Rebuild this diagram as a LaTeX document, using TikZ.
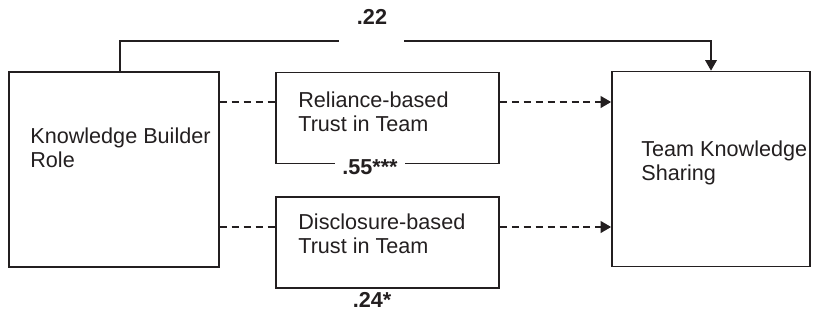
\documentclass[tikz,border=0pt]{standalone}
\usepackage{fontspec}
\setmainfont{Liberation Sans}
\usepackage{tikz}
\usetikzlibrary{arrows.meta, positioning, calc}
\definecolor{mydark}{RGB}{35,31,32}
\tikzset{
  bigbox/.style={rectangle, draw=mydark, line width=0.9pt,
    minimum width=4.2cm, minimum height=3.9cm, inner sep=0pt},
  midbox/.style={rectangle, draw=mydark, line width=0.9pt,
    minimum width=4.46cm, minimum height=1.82cm, inner sep=0pt},
  boxtext/.style={anchor=west, align=left, inner sep=0pt, text=mydark,
    font=\fontsize{12.3}{13.7}\selectfont},
  coef/.style={inner sep=0pt, text=mydark,
    font=\fontsize{12.3}{13.7}\selectfont\bfseries},
  arrow/.style={-{Triangle[length=6pt, width=6.5pt]}, line width=1.1pt, color=mydark},
  dasharrow/.style={-{Triangle[length=6pt, width=6.5pt]}, line width=1.4pt,
    color=mydark, dash pattern=on 4pt off 2.8pt},
  dashline/.style={line width=1.4pt, color=mydark, dash pattern=on 4pt off 2.8pt},
  line/.style={line width=1.1pt, color=mydark}
}
\begin{document}
\begin{tikzpicture}
  \useasboundingbox (0,0) rectangle (16.38,6.4);
  % boxes
  \node[bigbox] (kbr) at (2.28,3.01) {};
  \node[midbox] (rel) at (7.75,4.04) {};
  \node[midbox] (dis) at (7.75,1.55) {};
  \node[bigbox, minimum width=3.96cm] (tks) at (14.22,3.02) {};
  % box texts
  \node[boxtext] (kbrtxt) at (0.6,3.44) {Knowledge Builder\\Role};
  \node[boxtext] (reltxt) at (5.96,4.16) {Reliance-based\\Trust in Team};
  \node[boxtext] (distxt) at (5.96,1.72) {Disclosure-based\\Trust in Team};
  \node[boxtext] (tkstxt) at (12.82,3.14) {Team Knowledge\\Sharing};
  % direct path
  \coordinate (up) at (2.4,5.58);
  \coordinate (gapl) at (6.78,5.58);
  \coordinate (gapr) at (8.08,5.58);
  \draw[line] (kbr.north -| up) -- (up) -- (gapl);
  \draw[arrow] (gapr) -| (tks.north);
  \node[coef] (c22) at (7.44,6.06) {.22};
  % mediated paths
  \draw[dashline] (kbr.east |- 0,4.36) -- (rel.west |- 0,4.36);
  \draw[dasharrow] (rel.east |- 0,4.36) -- (tks.west |- 0,4.36);
  \draw[dashline] (kbr.east |- 0,1.86) -- (dis.west |- 0,1.86);
  \draw[dasharrow] (dis.east |- 0,1.86) -- (tks.west |- 0,1.86);
  % coefficients
  \node[coef, fill=white, inner xsep=4pt, inner ysep=1pt] (c55) at (7.4,3.06) {.55***};
  \node[coef] (c24) at (7.44,0.4) {.24*};
\end{tikzpicture}
\end{document}
